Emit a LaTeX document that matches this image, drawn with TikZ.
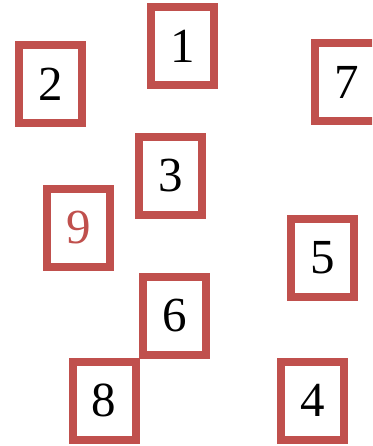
\documentclass[tikz,border=0pt]{standalone}
\usepackage{fontspec}
\setmainfont{Liberation Serif}
\definecolor{boxred}{HTML}{C0504D}
\begin{document}
\begin{tikzpicture}[x=1pt,y=-1pt,
  card/.style={draw=boxred,line width=8pt,rectangle,minimum width=63pt,minimum height=78pt,inner sep=0pt,
    font=\fontsize{49}{49}\selectfont,text=black}]
\useasboundingbox (0,0) rectangle (372,446);
\clip (0,0) rectangle (372,446);
\node[card] (n1) at (182.5,46) {1};
\node[card] (n2) at (50.5,84.5) {2};
\node[card] (n7) at (346.5,82) {7};
\node[card] (n3) at (170.5,176) {3};
\node[card,text=boxred] (n9) at (78.5,228) {9};
\node[card] (n5) at (322.5,258) {5};
\node[card] (n6) at (174.5,316) {6};
\node[card] (n8) at (104,400.5) {8};
\node[card] (n4) at (312.3,400.5) {4};
\end{tikzpicture}
\end{document}
